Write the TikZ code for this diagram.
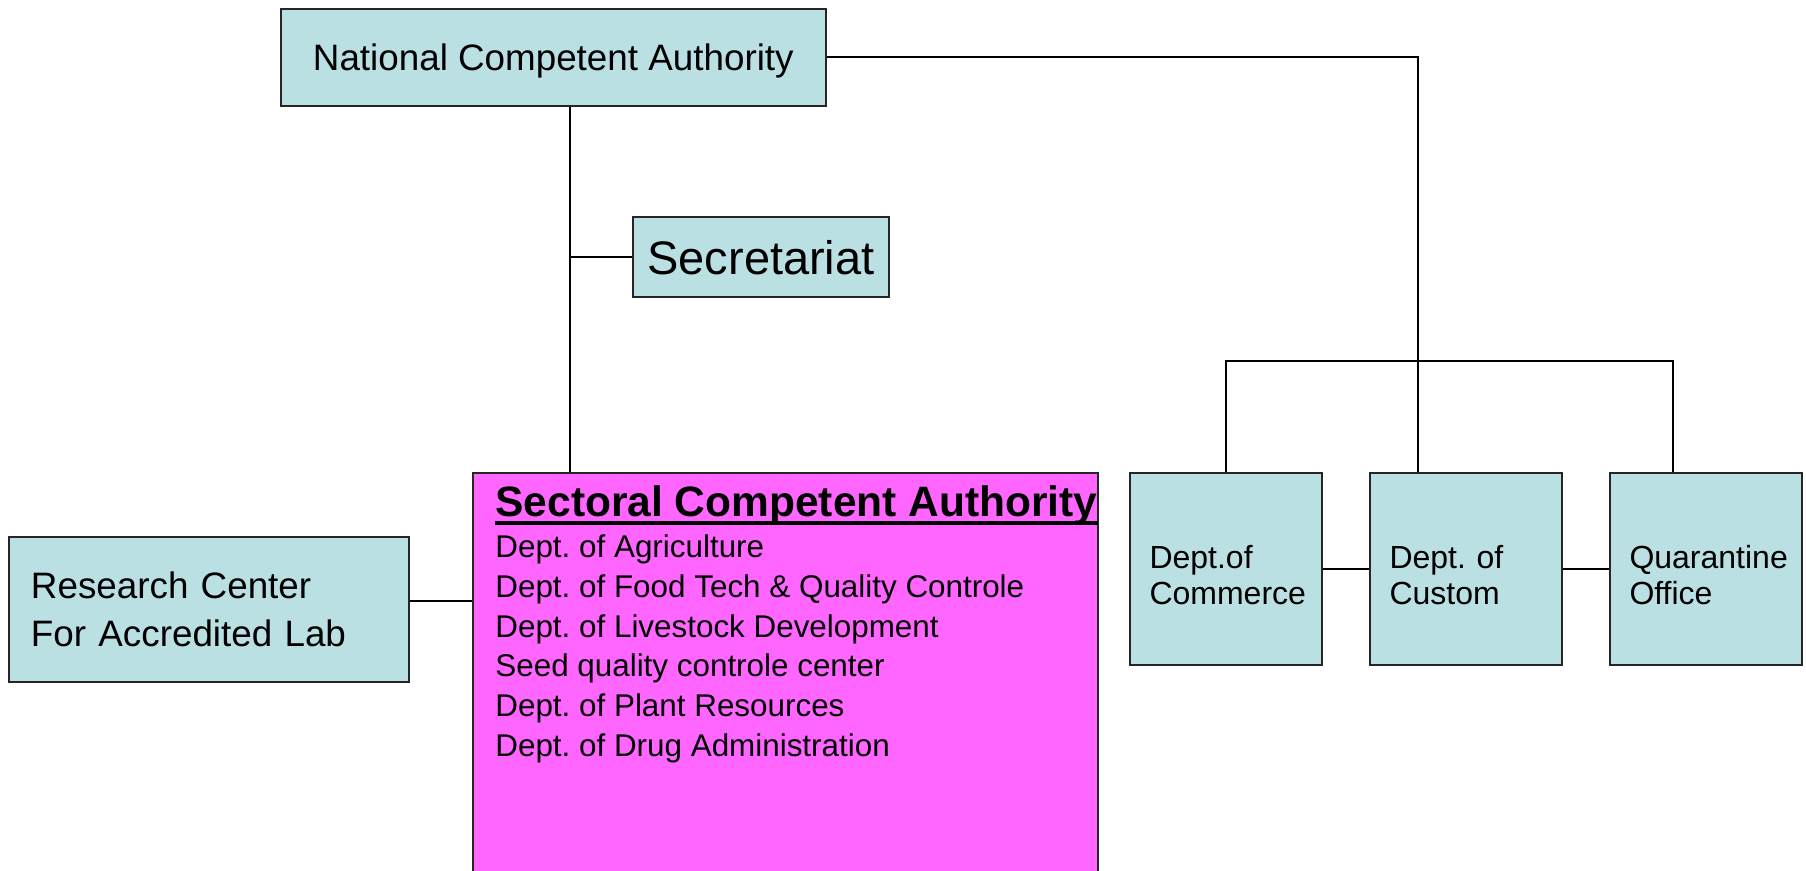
\documentclass[tikz,border=0pt]{standalone}
\usepackage{fontspec}
\setmainfont{Liberation Sans}
\usepackage{xcolor}
\definecolor{boxblue}{RGB}{187,224,227}
\definecolor{scapink}{RGB}{255,102,255}
\newcommand{\thickuline}[1]{\setbox0=\hbox{#1}\rlap{\vrule height -2pt depth 4pt width \wd0}\box0}
\frenchspacing

\begin{document}
\begin{tikzpicture}[x=0.5pt, y=-0.5pt]
        \tikzstyle{orgbox}=[rectangle, draw=black!85, line width=1pt, fill=boxblue, inner sep=0pt]
        \tikzstyle{deptbox}=[orgbox, minimum width=96pt, minimum height=96pt, text width=76pt, inner xsep=10pt, align=left, font=\fontsize{16}{18}\selectfont, execute at begin node=\rule{0pt}{17.5pt}]
        \tikzstyle{link}=[line width=1pt]
        \useasboundingbox (0,0) rectangle (1806,871);

        % 上层机构
        \node[orgbox, minimum width=272.4pt, minimum height=48.5pt, text depth=-4pt, font=\fontsize{18.4}{22}\selectfont] (nca) at (553.3,57.5) {National Competent Authority};
        \node[orgbox, minimum width=128pt, minimum height=40pt, text depth=-4pt, font=\fontsize{23.5}{28}\selectfont] (sec) at (761,257) {Secretariat};

        % 左侧与中间
        \node[orgbox, minimum width=200pt, minimum height=72.5pt, text width=178pt, inner xsep=11pt, align=left, font=\fontsize{18.4}{24}\selectfont] (res) at (209,609.5) {Research Center\\For Accredited Lab};
        \node[orgbox, fill=scapink, minimum width=312.6pt, minimum height=203.5pt] (sca) at (785.6,676.5) {};

        % 右侧三个部门
        \node[deptbox] (com) at (1225.5,569) {Dept.of\\Commerce};
        \node[deptbox] (cus) at (1465.5,569) {Dept. of\\Custom};
        \node[deptbox] (qua) at (1705.5,569) {Quarantine\\Office};

        % 粉色框内文字
        \node[anchor=base west, inner sep=0pt, font=\bfseries\fontsize{21.25}{25}\selectfont] (scatitle) at (495,517) {\thickuline{Sectoral Competent Authority}};
        \foreach \t [count=\i] in {Dept. of Agriculture, Dept. of Food Tech \& Quality Controle, Dept. of Livestock Development, Seed quality controle center, Dept. of Plant Resources, Dept. of Drug Administration} {
            \node[anchor=base west, inner sep=0pt, font=\fontsize{15.7}{19}\selectfont] (item\i) at (495,{558+39.6*(\i-1)}) {\t};
        }

        % 连线
        \coordinate (trunk) at (570,0);
        \coordinate (spine) at (1417.5,0);
        \coordinate (lablink) at (0,601);
        \coordinate (bracket) at (0,361);
        \coordinate (quaup) at (1673,0);
        \draw[link] (nca.south -| trunk) -- (sca.north -| trunk);
        \draw[link] (sec.west) -- (sec.west -| trunk);
        \draw[link] (res.east |- lablink) -- (sca.west |- lablink);
        \draw[link] (nca.east) -| (cus.north -| spine);
        \draw[link] (com.north) |- (bracket -| quaup) -- (qua.north -| quaup);
        \draw[link] (com.east) -- (cus.west);
        \draw[link] (cus.east) -- (qua.west);
    \end{tikzpicture}
\end{document}
